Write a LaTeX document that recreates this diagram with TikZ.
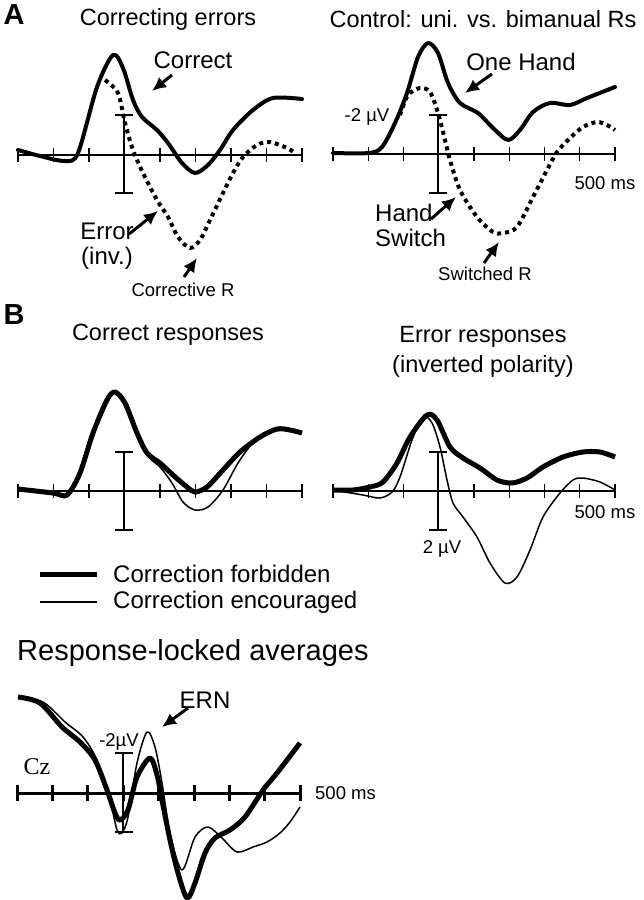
\documentclass[tikz,border=0pt]{standalone}
\usepackage{fontspec}
\setmainfont{Liberation Sans}
\newfontfamily\czfont{Liberation Serif}
\usetikzlibrary{arrows.meta}

\begin{document}
\begin{tikzpicture}[x=1pt,y=-1pt]
    \tikzstyle{title}=[font=\fontsize{23.5}{30}\selectfont, align=center, inner sep=0pt]
    \tikzstyle{lab}=[font=\fontsize{24}{25}\selectfont, align=center, inner sep=0pt]
    \tikzstyle{small}=[font=\fontsize{18.5}{20}\selectfont, inner sep=0pt]
    \tikzstyle{panel}=[font=\fontsize{29}{30}\selectfont\bfseries, inner sep=0pt]
    \tikzstyle{pointer}=[-{Latex[length=14pt,width=13pt]}, line width=3pt]
    \tikzstyle{wave}=[line width=4pt, line join=round, line cap=round]
    \tikzstyle{dots}=[line width=4pt, dash pattern=on 4pt off 4pt]
    \tikzstyle{forbid}=[line width=5pt, line join=round]
    \tikzstyle{encour}=[line width=1.5pt, line join=round]
    \tikzstyle{ax}=[line width=1.2pt]
    \useasboundingbox (0,0) rectangle (643,900);

    % panel A, left
    \node[panel] (pA) at (14,15) {A};
    \node[title] (tcorr) at (168,19) {Correcting errors};
    \draw[ax] (18,155) -- (302,155);
    \foreach \i in {0,...,8} \draw[ax] (18+35.5*\i,148) -- (18+35.5*\i,162);
    \draw[ax] (124,115) -- (124,193);
    \draw[ax] (115,115) -- (133,115);
    \draw[ax] (115,193) -- (133,193);
    \draw[dots] plot[smooth] coordinates {(105,80) (118,93) (125,123) (133,150) (143,173)
        (157,200) (168,217) (178,237) (190,248) (200,240) (210,220) (223,193) (233,173)
        (243,157) (257,145) (270,142) (287,148) (295,153)};
    \draw[wave] plot[smooth] coordinates {(18,150) (40,156) (65,161) (78,153) (97,87)
        (113,55) (123,68) (133,100) (142,117) (157,130) (168,143) (182,163) (195,173)
        (208,165) (220,150) (233,130) (253,110) (273,98) (302,99)};
    \node[lab] (correct) at (193,60) {Correct};
    \coordinate (correcttip) at (152,91);
    \draw[pointer] (172,75) -- (correcttip);
    \node[lab] (error) at (107,246) {Error\\(inv.)};
    \coordinate (errortip) at (158,211);
    \draw[pointer] (129,234) -- (errortip);
    \node[small] (corrR) at (183,290) {Corrective R};
    \coordinate (corrRtip) at (197,258);
    \draw[pointer] (184,277) -- (corrRtip);

    % panel A, right
    \node[title] (tctrl) at (483,19) {Control: uni. vs. bimanual Rs};
    \draw[ax] (333,154) -- (615,154);
    \foreach \i in {0,...,8} \draw[ax] (333+35.25*\i,147) -- (333+35.25*\i,161);
    \draw[ax] (438,115) -- (438,193);
    \draw[ax] (429,115) -- (447,115);
    \draw[ax] (429,193) -- (447,193);
    \node[small] (uvA) at (367,117) {-2 µV};
    \node[small] (msA) at (605,183) {500 ms};
    \draw[dots] plot[smooth] coordinates {(400,115) (408,95) (420,88) (430,92) (438,113)
        (445,140) (450,160) (460,190) (477,217) (493,232) (503,233) (517,227) (533,197)
        (547,170) (557,152) (570,138) (583,127) (597,122) (607,125) (615,130)};
    \draw[wave] plot[smooth] coordinates {(333,153) (369,153) (382,147) (395,123) (407,93)
        (418,57) (428,43) (438,53) (448,83) (460,103) (478,113) (493,128) (508,140)
        (520,130) (533,112) (550,103) (570,105) (587,98) (615,87)};
    \node[lab] (onehand) at (521,62) {One Hand};
    \coordinate (onehandtip) at (465,93);
    \draw[pointer] (492,74) -- (onehandtip);
    \node[lab, align=left, anchor=west] (switch) at (375,225) {Hand\\Switch};
    \coordinate (switchtip) at (456,197);
    \draw[pointer] (431,219) -- (switchtip);
    \node[small] (switchR) at (485,274) {Switched R};
    \coordinate (switchRtip) at (499,242);
    \draw[pointer] (484,263) -- (switchRtip);

    % panel B, left
    \node[panel] (pB) at (14,315) {B};
    \node[title] (tcorrect) at (168,335) {Correct responses};
    \draw[ax] (18,491) -- (302,491);
    \foreach \i in {0,...,8} \draw[ax] (18+35.5*\i,484) -- (18+35.5*\i,498);
    \draw[ax] (124,452) -- (124,530);
    \draw[ax] (115,452) -- (133,452);
    \draw[ax] (115,530) -- (133,530);
    \draw[encour] plot[smooth] coordinates {(18,489) (53,493) (67,495) (80,473) (93,433)
        (107,400) (115,392) (125,403) (137,433) (149,457) (160,467) (172,483) (183,502)
        (195,510) (208,507) (223,490) (238,463) (253,443) (270,432) (290,430) (302,433)};
    \draw[forbid] plot[smooth] coordinates {(18,489) (53,493) (67,495) (80,473) (93,433)
        (107,400) (115,392) (125,403) (137,433) (147,453) (160,463) (173,475) (187,487)
        (195,492) (207,487) (223,470) (240,452) (260,437) (277,429) (290,430) (302,433)};

    % panel B, right
    \node[title] (terror) at (483,352) {Error responses\\(inverted polarity)};
    \draw[ax] (333,491) -- (615,491);
    \foreach \i in {0,...,8} \draw[ax] (333+35.25*\i,484) -- (333+35.25*\i,498);
    \draw[ax] (438,452) -- (438,530);
    \draw[ax] (429,452) -- (447,452);
    \draw[ax] (429,530) -- (447,530);
    \node[small] (uvB) at (442,549) {2 µV};
    \node[small] (msB) at (605,512) {500 ms};
    \draw[forbid] plot[smooth] coordinates {(333,490) (353,490) (370,487) (383,482)
        (397,463) (410,437) (427,415) (437,420) (450,447) (463,458) (480,468) (497,480)
        (512,483) (527,478) (543,467) (563,457) (583,452) (600,452) (615,457)};
    \draw[encour] plot[smooth] coordinates {(333,490) (363,495) (380,498) (392,492)
        (400,477) (412,440) (423,417) (432,423) (440,447) (447,480) (453,503) (463,517)
        (477,537) (490,563) (505,583) (517,577) (530,550) (543,517) (560,493) (573,480)
        (583,478) (600,482) (615,490)};

    % legend
    \draw[forbid] (40,574) -- (97,574);
    \node[lab, anchor=west] (lforbid) at (113,574) {Correction forbidden};
    \draw[encour] (40,602) -- (97,602);
    \node[lab, anchor=west] (lencour) at (113,602) {Correction encouraged};

    % response-locked
    \node[font=\fontsize{29}{30}\selectfont, inner sep=0pt, anchor=west] (tresp) at (17,653) {Response-locked averages};
    \draw[line width=3pt] (17,793) -- (300,793);
    \foreach \i in {0,...,8} \draw[line width=3pt] (17+35.4*\i,785) -- (17+35.4*\i,801);
    \node[small, anchor=west] (msC) at (315,793) {500 ms};
    \node[font=\czfont\fontsize{24}{26}\selectfont, inner sep=0pt] (cz) at (37,767) {Cz};
    \draw[line width=2pt] (123,753) -- (123,832);
    \draw[line width=2pt] (115,753) -- (133,753);
    \draw[line width=2pt] (115,832) -- (133,832);
    \node[small] (uvC) at (119,742) {-2µV};
    \draw[encour] plot[smooth] coordinates {(18,697) (43,702) (65,722) (83,737) (97,760)
        (110,800) (117,830) (122,833) (128,817) (137,763) (147,732) (155,747) (162,783)
        (170,833) (182,870) (195,837) (208,827) (222,838) (237,852) (253,847) (267,842)
        (280,833) (290,822) (300,807)};
    \draw[forbid] plot[smooth] coordinates {(18,697) (40,703) (62,727) (80,742) (95,760)
        (107,790) (115,813) (120,820) (128,810) (137,777) (150,758) (157,775) (162,800)
        (170,840) (178,873) (187,898) (195,883) (205,853) (215,838) (230,830) (245,817)
        (263,790) (277,773) (300,743)};
    \node[lab] (ern) at (205,700) {ERN};
    \coordinate (erntip) at (162,727);
    \draw[pointer] (188,708) -- (erntip);
\end{tikzpicture}
\end{document}
